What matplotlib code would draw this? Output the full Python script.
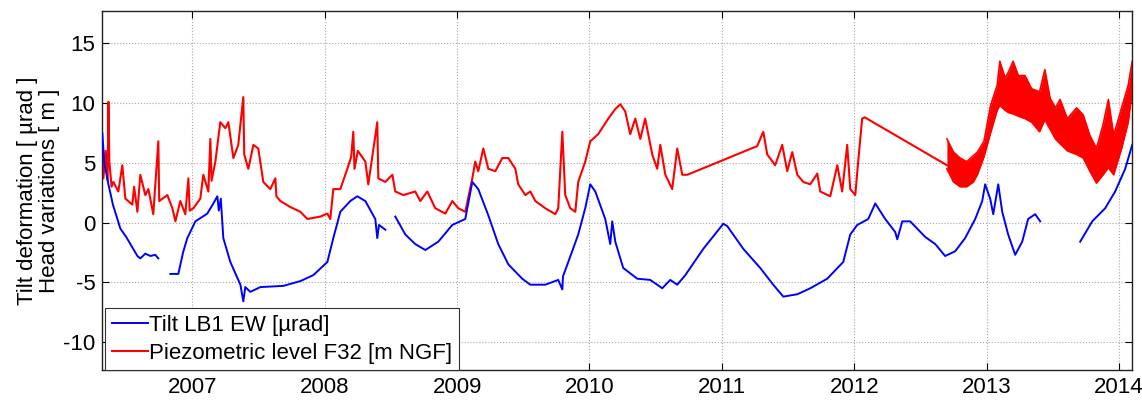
import numpy as np
import matplotlib
matplotlib.use("Agg")
import matplotlib.pyplot as plt

plt.rcParams['font.family'] = ['Liberation Sans', 'DejaVu Sans']
plt.rcParams['font.size'] = 16
plt.rcParams['axes.unicode_minus'] = False

# Tilt LB1 EW [urad] -- decimal year, value (nan = data gap)
tilt_t = [2006.320, 2006.335, 2006.366, 2006.400, 2006.456, 2006.500, 2006.532, 2006.585,
          2006.607, 2006.645, 2006.683, 2006.720, 2006.743, np.nan,
          2006.834, 2006.894, 2006.930, 2006.962, 2007.023, 2007.113, 2007.159, 2007.189,
          2007.200, 2007.215, 2007.234, 2007.287, 2007.363, 2007.385, 2007.400, 2007.438,
          2007.514, 2007.687, 2007.816, 2007.914, 2008.020, 2008.065, 2008.118, 2008.193,
          2008.246, 2008.307, 2008.382, 2008.397, 2008.410, 2008.458, np.nan,
          2008.533, 2008.609, 2008.684, 2008.760, 2008.858, 2008.964, 2009.062, 2009.115,
          2009.160, 2009.236, 2009.311, 2009.387, 2009.492, 2009.553, 2009.666, 2009.764,
          2009.795, 2009.800, 2009.840, 2009.915, 2009.968, 2010.006, 2010.044, 2010.119,
          2010.157, 2010.172, 2010.195, 2010.255, 2010.361, 2010.459, 2010.550, 2010.610,
          2010.663, 2010.724, 2010.860, 2011.011, 2011.041, 2011.162, 2011.290, 2011.388,
          2011.464, 2011.570, 2011.668, 2011.796, 2011.917, 2011.970, 2012.023, 2012.106,
          2012.159, 2012.234, 2012.310, 2012.325, 2012.363, 2012.423, 2012.536, 2012.612,
          2012.687, 2012.763, 2012.838, 2012.914, 2012.967, 2012.989, 2013.027, 2013.050,
          2013.088, 2013.118, 2013.163, 2013.216, 2013.269, 2013.314, 2013.367, 2013.405, np.nan,
          2013.707, 2013.798, 2013.896, 2013.971, 2014.047, 2014.100]
tilt_v = [7.5, 5.0, 3.2, 1.5, -0.5, -1.2, -1.8, -2.8,
          -3.0, -2.6, -2.8, -2.7, -3.0, np.nan,
          -4.3, -4.3, -2.5, -1.3, 0.1, 0.75, 1.6, 2.2,
          1.0, 2.0, -1.3, -3.3, -5.2, -6.6, -5.4, -5.8,
          -5.4, -5.3, -4.9, -4.4, -3.3, -1.3, 0.9, 1.8,
          2.2, 1.8, 0.3, -1.3, -0.2, -0.6, np.nan,
          0.5, -1.0, -1.8, -2.3, -1.6, -0.2, 0.3, 3.4,
          2.8, 0.6, -1.8, -3.5, -4.7, -5.2, -5.2, -4.8,
          -5.6, -4.5, -3.3, -1.0, 1.2, 3.2, 2.6, 0.3,
          -1.8, 0.1, -1.6, -3.8, -4.7, -4.8, -5.5, -4.8,
          -5.2, -4.4, -2.2, -0.1, -0.3, -2.2, -3.8, -5.2,
          -6.2, -6.0, -5.5, -4.7, -3.3, -1.0, -0.2, 0.3,
          1.6, 0.3, -0.8, -1.4, 0.1, 0.1, -1.2, -1.8,
          -2.8, -2.4, -1.3, 0.3, 1.8, 3.2, 2.0, 0.7,
          3.2, 0.9, -1.0, -2.7, -1.6, 0.3, 0.7, 0.1, np.nan,
          -1.6, 0.1, 1.2, 2.6, 4.5, 6.5]

# Piezometric level F32 [m NGF] up to the 2012 gap
piezo_t = [2006.320, 2006.328, 2006.345, 2006.360, 2006.366, 2006.373, 2006.390, 2006.403,
           2006.441, 2006.471, 2006.494, 2006.547, 2006.560, 2006.585, 2006.607, 2006.645,
           2006.668, 2006.705, 2006.743, 2006.750, 2006.811, 2006.849, 2006.872, 2006.909,
           2006.947, 2006.970, 2006.980, 2007.008, 2007.060, 2007.083, 2007.121, 2007.136,
           2007.145, 2007.174, 2007.211, 2007.249, 2007.272, 2007.310, 2007.347, 2007.385,
           2007.392, 2007.423, 2007.461, 2007.498, 2007.536, 2007.589, 2007.627, 2007.635,
           2007.665, 2007.740, 2007.816, 2007.869, 2007.967, 2008.020, 2008.042, 2008.065,
           2008.118, 2008.171, 2008.200, 2008.216, 2008.225, 2008.250, 2008.269, 2008.307,
           2008.329, 2008.397, 2008.405, 2008.458, 2008.511, 2008.533, 2008.594, 2008.684,
           2008.722, 2008.775, 2008.835, 2008.911, 2008.964, 2009.009, 2009.062, 2009.115,
           2009.137, 2009.160, 2009.198, 2009.236, 2009.289, 2009.341, 2009.387, 2009.440,
           2009.462, 2009.515, 2009.553, 2009.591, 2009.666, 2009.742, 2009.764, 2009.795,
           2009.817, 2009.855, 2009.893, 2009.915, 2009.968, 2010.006, 2010.066, 2010.142,
           2010.195, 2010.233, 2010.270, 2010.308, 2010.346, 2010.384, 2010.421, 2010.474,
           2010.512, 2010.535, 2010.573, 2010.625, 2010.663, 2010.701, 2010.739, 2011.267,
           2011.313, 2011.343, 2011.403, 2011.456, 2011.494, 2011.532, 2011.570, 2011.615,
           2011.668, 2011.721, 2011.743, 2011.819, 2011.872, 2011.909, 2011.947, 2011.970,
           2012.008, 2012.030, 2012.060, 2012.080, 2012.700]
piezo_v = [5.4, 3.7, 6.0, 3.5, 10.1, 5.1, 3.0, 3.4,
           2.6, 4.8, 2.0, 1.5, 3.0, 0.9, 4.0, 2.3,
           2.8, 0.7, 6.8, 1.8, 2.3, 1.2, 0.1, 1.8,
           0.7, 3.7, 1.0, 1.2, 2.0, 4.0, 2.6, 7.0,
           3.5, 5.1, 8.4, 7.9, 8.4, 5.4, 6.5, 10.5,
           5.7, 4.5, 6.5, 6.2, 3.4, 2.8, 3.7, 2.2,
           1.8, 1.3, 0.9, 0.3, 0.5, 0.75, 0.3, 2.8,
           2.8, 4.5, 5.5, 7.6, 4.5, 6.0, 5.7, 5.1,
           3.2, 8.4, 3.7, 3.4, 4.0, 2.6, 2.3, 2.6,
           1.8, 2.6, 1.2, 0.75, 1.8, 1.2, 0.9, 3.7,
           5.1, 4.3, 6.2, 4.5, 4.3, 5.4, 5.4, 4.5,
           3.2, 2.3, 2.6, 1.8, 1.2, 0.7, 1.2, 7.6,
           2.3, 1.2, 0.9, 3.4, 5.1, 6.8, 7.4, 8.7,
           9.5, 9.9, 9.3, 7.4, 8.7, 7.0, 8.7, 5.7,
           4.5, 6.5, 4.0, 2.8, 6.2, 4.0, 4.0, 6.4,
           7.6, 5.7, 4.8, 6.5, 4.3, 5.9, 4.0, 3.4,
           3.2, 4.1, 2.6, 2.2, 4.8, 2.6, 6.5, 2.8,
           2.3, 5.1, 8.7, 8.8, 4.8]

# dense noisy record after 2012.7: upper / lower envelope of the band
band_t = [2012.700, 2012.750, 2012.800, 2012.850, 2012.900, 2012.930, 2012.980, 2013.030,
          2013.080, 2013.100, 2013.140, 2013.165, 2013.200, 2013.240, 2013.290, 2013.340,
          2013.400, 2013.440, 2013.480, 2013.520, 2013.555, 2013.610, 2013.680, 2013.730,
          2013.780, 2013.830, 2013.880, 2013.920, 2013.960, 2014.020, 2014.070, 2014.100]
band_hi = [7.0, 5.9, 5.4, 5.1, 5.6, 5.9, 6.8, 9.8,
           11.5, 13.5, 12.1, 12.6, 13.5, 12.3, 12.3, 11.2,
           10.95, 12.8, 10.4, 9.6, 10.3, 8.7, 9.6, 9.0,
           7.3, 6.2, 8.2, 10.3, 7.3, 9.6, 11.5, 13.5]
band_lo = [4.5, 3.4, 3.0, 3.0, 3.4, 4.0, 5.5, 7.5,
           9.4, 9.8, 9.4, 9.2, 9.1, 8.9, 8.7, 8.4,
           7.6, 8.6, 7.8, 7.0, 6.6, 6.0, 5.7, 5.4,
           4.3, 3.3, 4.0, 4.6, 4.0, 6.2, 8.4, 11.0]

year_ticks = [2007, 2008, 2009, 2010, 2011, 2012, 2013, 2014]
value_ticks = [-10, -5, 0, 5, 10, 15]

fig = plt.figure(figsize=(11.42, 4.01), dpi=100)
ax = fig.add_axes([0.0896, 0.0761, 0.9016, 0.8972])

blue = (0, 0, 1)
red = (1, 0, 0)

ax.plot(tilt_t, tilt_v, color=blue, lw=1.4, label="Tilt LB1 EW [\u00b5rad]", zorder=3)
ax.plot(piezo_t, piezo_v, color=red, lw=1.5, label="Piezometric level F32 [m NGF]", zorder=2)
ax.fill_between(band_t, band_lo, band_hi, color=red, lw=0, zorder=2)
ax.plot(band_t, band_hi, color=red, lw=1.2, zorder=2)
ax.plot(band_t, band_lo, color=red, lw=1.2, zorder=2)

ax.set_xlim(2006.32, 2014.098)
ax.set_ylim(-12.38, 17.73)
ax.set_xticks(year_ticks)
ax.set_xticklabels([str(y) for y in year_ticks])
ax.set_yticks(value_ticks)

ax.grid(True, linestyle=':', color='#a8a8a8', lw=0.8)
ax.tick_params(direction='in', top=True, right=True, length=5, width=0.8, pad=5)
for s in ax.spines.values():
    s.set_linewidth(1.0)
    s.set_color('#222222')

ax.set_ylabel("Tilt deformation [ \u00b5rad ]\nHead variations [ m ]", linespacing=1.1, labelpad=2)

leg = ax.legend(loc='lower left', bbox_to_anchor=(0.003, 0.0), borderaxespad=0,
                handlelength=1.6, handletextpad=0.05, labelspacing=0.3, borderpad=0.3,
                fancybox=False, framealpha=1, edgecolor='#333333')
leg.get_frame().set_linewidth(0.8)

fig.savefig("out.png", dpi=100)
